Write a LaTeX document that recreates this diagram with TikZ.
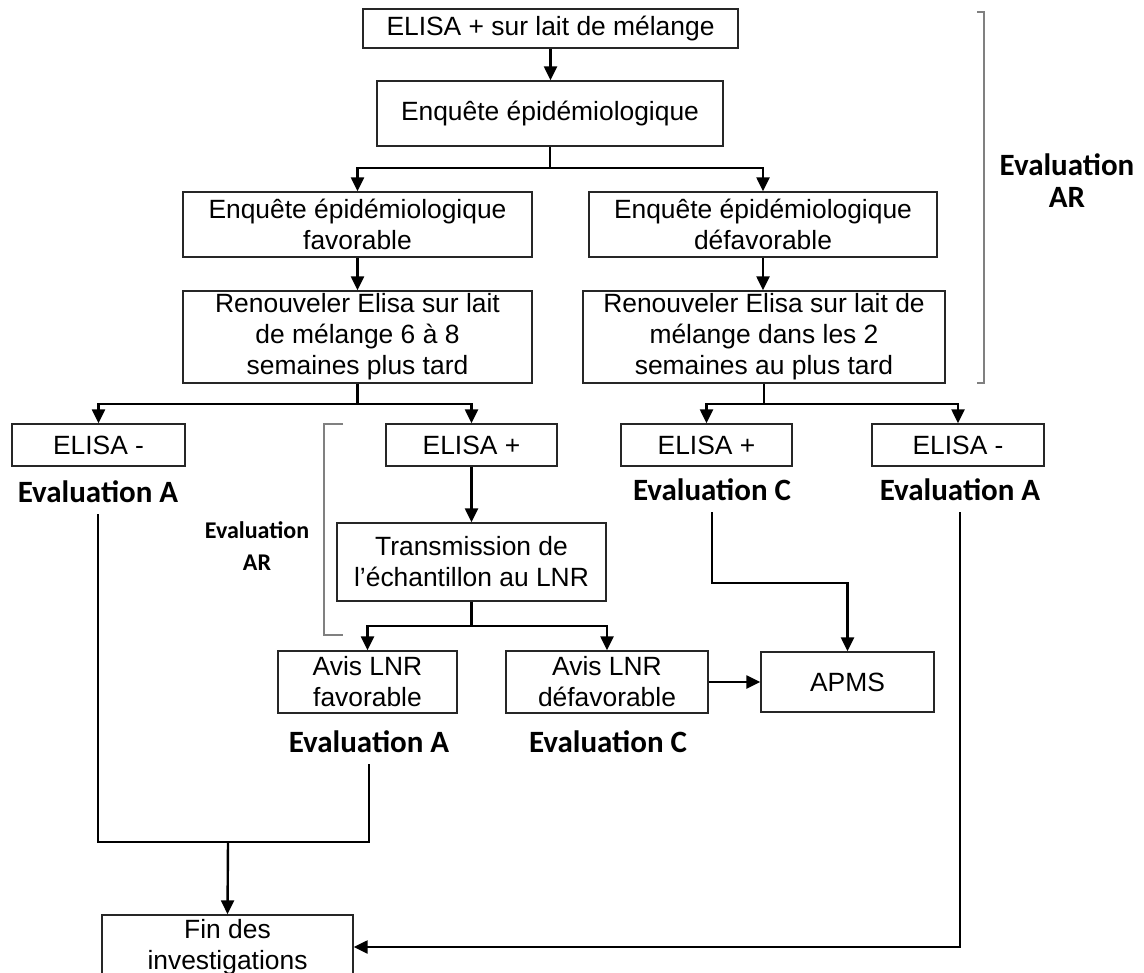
\documentclass[tikz,border=0pt]{standalone}
\usepackage{fontspec}
\setmainfont{Liberation Sans}
\newfontfamily\calibrifont{Carlito}
\usetikzlibrary{arrows.meta}
\begin{document}
\begin{tikzpicture}[x=1pt,y=-1pt,
  box/.style={draw=black!85, line width=1.4pt, align=center, inner sep=0pt,
    font=\fontsize{26.4}{31}\selectfont},
  conn/.style={line width=2.4pt, draw=black},
  arr/.style={conn, -{Triangle[length=14pt,width=13pt]}},
  lbl/.style={font=\calibrifont\bfseries\fontsize{31}{32}\selectfont, inner sep=0pt, minimum height=44pt, align=center},
  lblsmall/.style={font=\calibrifont\bfseries\fontsize{24}{32}\selectfont, inner sep=0pt, align=center},
  brk/.style={draw=black!50, line width=2pt}
]
\useasboundingbox[fill=white] (0,0) rectangle (1144,973);

% boxes
\node[box, minimum width=375pt, minimum height=39pt] (b1) at (550.5,28.5) {ELISA + sur lait de mélange};
\node[box, minimum width=346pt, minimum height=65pt] (b2) at (550,113.5) {Enquête épidémiologique};
\node[box, minimum width=349pt, minimum height=65pt] (b3l) at (357.5,224.5) {Enquête épidémiologique\\favorable};
\node[box, minimum width=348pt, minimum height=65pt] (b3r) at (763,224.5) {Enquête épidémiologique\\défavorable};
\node[box, minimum width=349pt, minimum height=92pt] (b4l) at (357.5,337) {Renouveler Elisa sur lait\\de mélange 6 à 8\\semaines plus tard};
\node[box, minimum width=362pt, minimum height=92pt] (b4r) at (764,337) {Renouveler Elisa sur lait de\\mélange dans les 2\\semaines au plus tard};
\node[box, minimum width=173pt, minimum height=42pt] (e1) at (98.5,445) {ELISA -};
\node[box, minimum width=171pt, minimum height=42pt] (e2) at (471.5,445) {ELISA +};
\node[box, minimum width=171pt, minimum height=42pt] (e3) at (706.5,445) {ELISA +};
\node[box, minimum width=172pt, minimum height=42pt] (e4) at (958,445) {ELISA -};
\node[box, minimum width=269pt, minimum height=78pt] (tr) at (471.5,562) {Transmission de\\l’échantillon au LNR};
\node[box, minimum width=179pt, minimum height=62pt] (av1) at (367.5,682) {Avis LNR\\favorable};
\node[box, minimum width=202pt, minimum height=62pt] (av2) at (607,682) {Avis LNR\\défavorable};
\node[box, minimum width=173pt, minimum height=60pt] (apms) at (847.5,682) {APMS};
\node[box, minimum width=251pt, minimum height=64pt] (fin) at (227.5,947) {Fin des\\investigations};

% evaluation labels
\node[lbl] (lA1) at (98,492) {Evaluation A};
\node[lbl] (lC3) at (712,490) {Evaluation C};
\node[lbl] (lA4) at (960,490) {Evaluation A};
\node[lbl] (lA2) at (369,742) {Evaluation A};
\node[lbl] (lC2) at (608,742) {Evaluation C};
\node[lbl, minimum height=0pt] (lAR) at (1067,181) {Evaluation\\AR};
\node[lblsmall] (lAR2) at (257,546) {Evaluation\\AR};

% brackets
\draw[brk] (977,12) -- (984,12) -- (984,383) -- (977,383);
\draw[brk] (343,424) -- (324,424) -- (324,635) -- (343,635);

% connectors
\coordinate (j0) at (551,168);
\coordinate (j1) at (358,404);
\coordinate (j2) at (764,404);
\coordinate (j3) at (472,626);
\coordinate (j4) at (713,583);
\coordinate (j5) at (228,842);

\draw[arr] (b1.south) -- (b1.south |- b2.north);
\draw[conn] (b2.south) -- (b2.south |- j0);
\draw[arr] (b2.south |- j0) -| (b3l.north);
\draw[arr] (b2.south |- j0) -| (b3r.north);
\draw[arr] (b3l.south) -- (b4l.north);
\draw[arr] (b3r.south) -- (b3r.south |- b4r.north);
\draw[conn] (b4l.south) -- (b4l.south |- j1);
\draw[arr] (b4l.south |- j1) -| (e1.north);
\draw[arr] (b4l.south |- j1) -| (e2.north);
\draw[conn] (b4r.south) -- (b4r.south |- j2);
\draw[arr] (b4r.south |- j2) -| (e3.north);
\draw[arr] (b4r.south |- j2) -| (e4.north);
\draw[arr] (e2.south) -- (tr.north);
\draw[conn] (tr.south) -- (tr.south |- j3);
\draw[arr] (tr.south |- j3) -| (av1.north);
\draw[arr] (tr.south |- j3) -| (av2.north);
\draw[arr] (av2.east) -- (apms.west);
\draw[arr] (lC3.south) -- (lC3.south |- j4) -| (apms.north);
\draw[arr] (lA4.south) |- (fin.east);
\draw[conn] (lA1.south) |- (j5) -| (lA2.south);
\draw[arr] (j5) -- (fin.north);
\end{tikzpicture}
\end{document}
